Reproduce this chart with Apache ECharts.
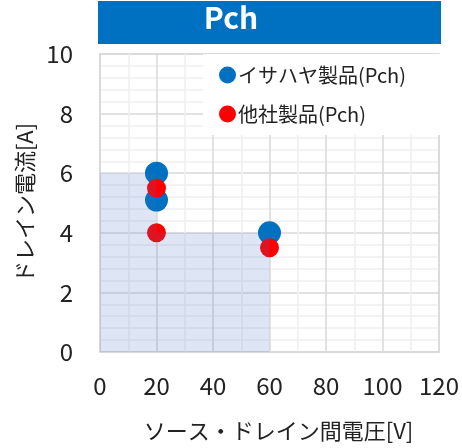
<!DOCTYPE html>
<html><head><meta charset="utf-8">
<script src="https://cdn.jsdelivr.net/npm/echarts@6/dist/echarts.min.js"></script>
<style>html,body{margin:0;padding:0;background:#fff}#c{width:462px;height:448px}</style>
</head><body><div id="c"></div>
<script>
var titleText = 'Pch';
var xName = 'ソース・ドレイン間電圧[V]';
var yName = 'ドレイン電流[A]';
var seriesNames = ['イサハヤ製品(Pch)', '他社製品(Pch)'];
var isahayaPoints = [[20, 6], [20, 5.1], [60, 4]];
var otherPoints = [[20, 5.5], [20, 4], [60, 3.5]];
var soaBoundary = [[0, 6], [20, 6], [20, 4], [60, 4], [60, 0]];
var xTicks = [0, 20, 40, 60, 80, 100, 120];
var yTicks = [0, 2, 4, 6, 8, 10];

var font = '"Noto Sans CJK JP", "Noto Sans", sans-serif';
var chart = echarts.init(document.getElementById('c'), null, {renderer: 'canvas'});
chart.setOption({
  animation: false,
  backgroundColor: '#fff',
  textStyle: {fontFamily: font},
  graphic: [
    {type: 'rect', left: 98, top: 1, shape: {width: 343, height: 43}, style: {fill: '#0070C0'}, z: 10},
    {type: 'text', left: 'center', top: 3, z: 11,
      style: {text: titleText, fill: '#fff', font: 'bold 30px ' + font}}
  ],
  grid: {left: 100, right: 23, top: 54, bottom: 96, show: true, borderColor: '#d9d9d9', borderWidth: 1.5},
  legend: {
    data: seriesNames, orient: 'vertical', left: 203, top: 54,
    backgroundColor: '#fff', padding: [11, 34, 11, 16],
    itemWidth: 17, itemHeight: 17, itemGap: 19, icon: 'circle',
    textStyle: {fontSize: 20, color: '#222', fontFamily: font, padding: [0, 0, 0, -3]}
  },
  xAxis: {
    type: 'value', min: xTicks[0], max: xTicks[xTicks.length - 1], interval: 20,
    name: xName, nameLocation: 'middle', nameGap: 68,
    nameTextStyle: {fontSize: 22, color: '#222', fontFamily: font, padding: [0, 0, 0, 18]},
    axisLine: {show: true, lineStyle: {color: '#d9d9d9', width: 1.5}},
    axisTick: {show: false},
    axisLabel: {fontSize: 24, color: '#222', margin: 22, fontFamily: font},
    splitLine: {show: true, lineStyle: {color: '#d9d9d9', width: 1.5}},
    minorTick: {show: false, splitNumber: 2},
    minorSplitLine: {show: true, lineStyle: {color: '#f0f0f0', width: 1.5}}
  },
  yAxis: {
    type: 'value', min: yTicks[0], max: yTicks[yTicks.length - 1], interval: 2,
    name: yName, nameLocation: 'middle', nameGap: 50,
    nameTextStyle: {fontSize: 22, color: '#222', fontFamily: font},
    axisLine: {show: true, lineStyle: {color: '#d9d9d9', width: 1.5}},
    axisTick: {show: false},
    axisLabel: {fontSize: 24, color: '#222', margin: 27, fontFamily: font},
    splitLine: {show: true, lineStyle: {color: '#d9d9d9', width: 1.5}},
    minorTick: {show: false, splitNumber: 5},
    minorSplitLine: {show: true, lineStyle: {color: '#f0f0f0', width: 1.5}}
  },
  series: [
    {name: seriesNames[0], type: 'scatter', data: isahayaPoints, symbolSize: 23,
      itemStyle: {color: '#0070C0', opacity: 1}, z: 3},
    {name: seriesNames[1], type: 'scatter', data: otherPoints, symbolSize: 19,
      itemStyle: {color: '#FF0000', opacity: 1}, z: 4},
    {name: 'SOA', type: 'line', data: soaBoundary, symbol: 'none', silent: true,
      lineStyle: {width: 0, opacity: 0},
      areaStyle: {color: 'rgba(68,114,196,0.25)', origin: 'start'}, z: 5}
  ]
});
</script></body></html>
